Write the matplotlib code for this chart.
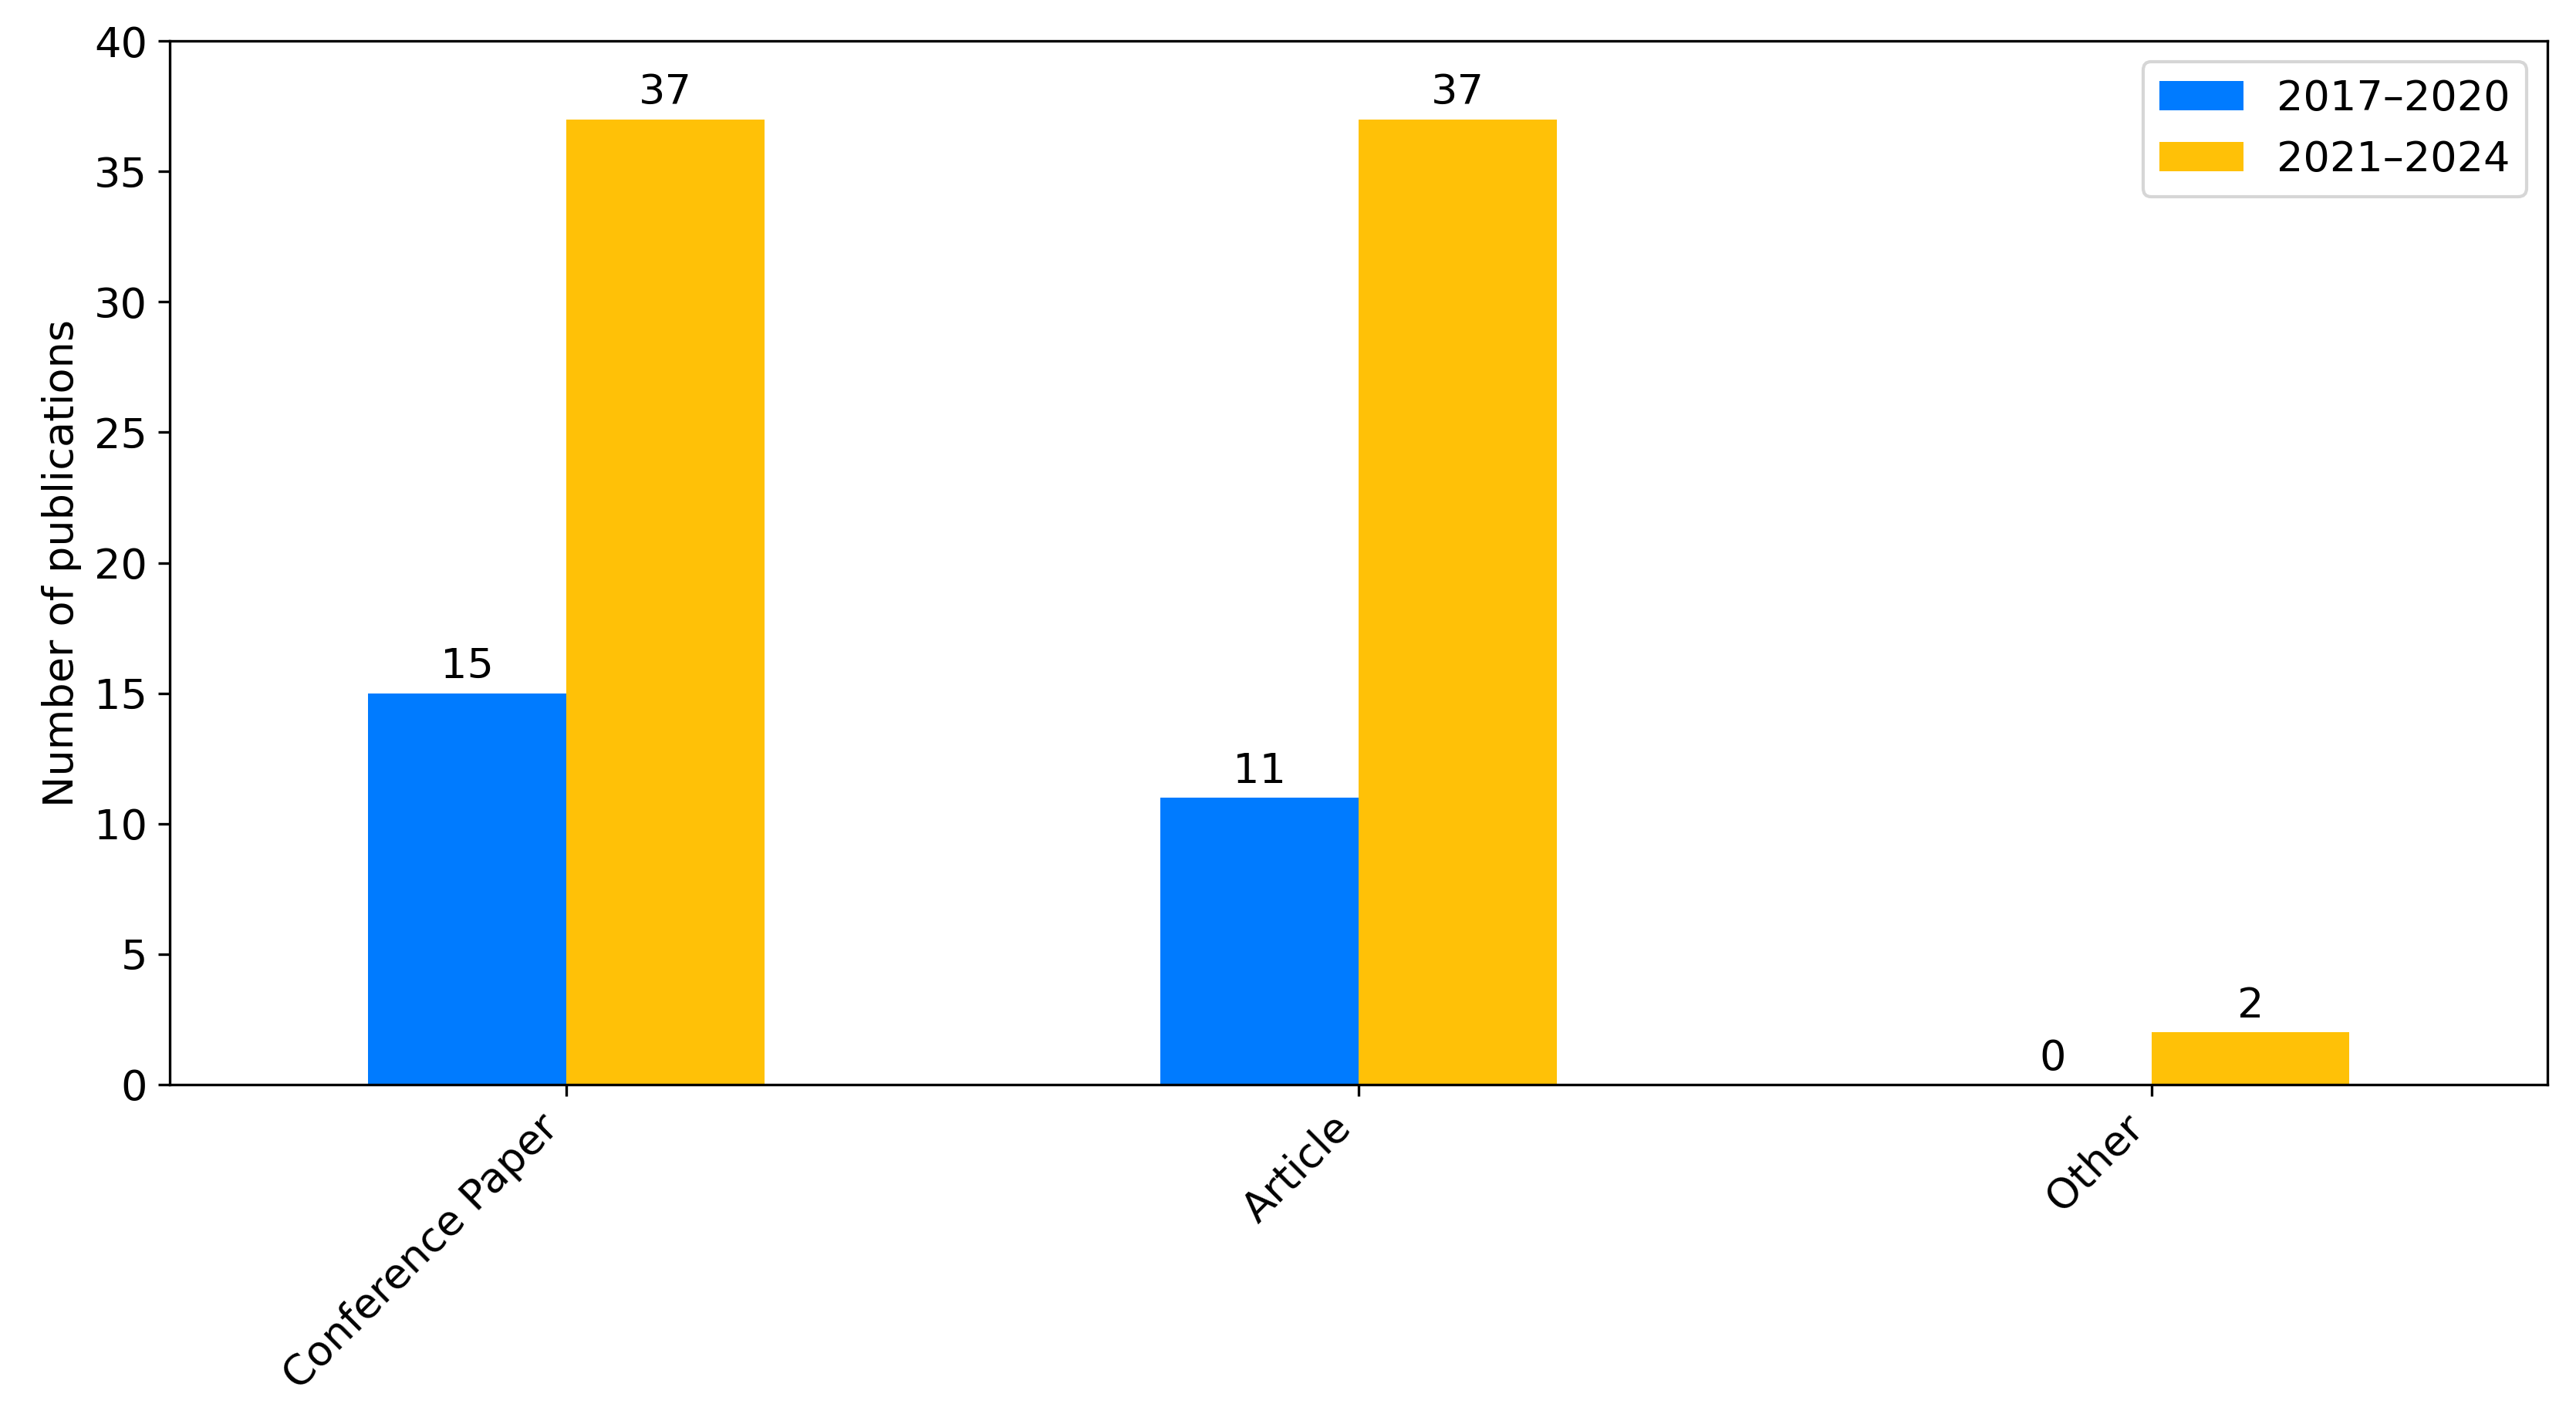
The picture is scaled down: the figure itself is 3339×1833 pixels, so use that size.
import numpy as np
import matplotlib.pyplot as plt

categories = ['Conference Paper', 'Article', 'Other']
period_labels = ['2017\u20132020', '2021\u20132024']
counts_2017_2020 = [15, 11, 0]
counts_2021_2024 = [37, 37, 2]

colors = ['#007BFF', '#FFC107']

x = np.arange(len(categories))
width = 0.25
fs = 13

fig, ax = plt.subplots(figsize=(11.13, 6.11), dpi=300)
b1 = ax.bar(x - width / 2, counts_2017_2020, width, label=period_labels[0], color=colors[0])
b2 = ax.bar(x + width / 2, counts_2021_2024, width, label=period_labels[1], color=colors[1])

ax.bar_label(b1, padding=2, fontsize=fs)
ax.bar_label(b2, padding=2, fontsize=fs)

ax.set_xticks(x)
ax.set_xticklabels(categories, rotation=45, ha='right', fontsize=fs)
ax.set_ylabel('Number of publications', fontsize=fs)
ax.tick_params(axis='y', labelsize=fs)
ax.set_xlim(-0.5, 2.5)
ax.set_ylim(0, 40)
ax.legend(loc='upper right', fontsize=fs)

fig.subplots_adjust(left=0.066, right=0.989, top=0.971, bottom=0.233)
fig.savefig('out.png', dpi=300)
